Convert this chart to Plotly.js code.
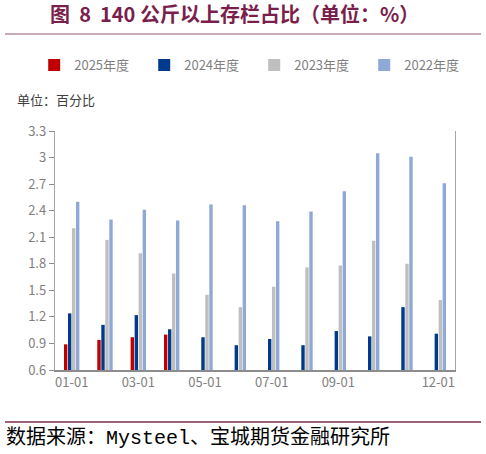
<!DOCTYPE html>
<html>
<head>
<meta charset="utf-8">
<script src="https://cdn.plot.ly/plotly-3.0.1.min.js"></script>
<style>
  body { margin: 0; background: #fff; }
  #chart { width: 486px; height: 454px; }
</style>
</head>
<body>
<div id="chart"></div>
<script>
// months on the x axis, and the labels that get shown
var months = ['01-01', '02-01', '03-01', '04-01', '05-01', '06-01',
              '07-01', '08-01', '09-01', '10-01', '11-01', '12-01'];
var shownMonths = ['01-01', '03-01', '05-01', '07-01', '09-01', '12-01'];

// share of hogs above 140 kg (%)
var y2025 = [0.89, 0.94, 0.97, 1.00, null, null, null, null, null, null, null, null];
var y2024 = [1.24, 1.11, 1.22, 1.06, 0.97, 0.88, 0.95, 0.88, 1.04, 0.98, 1.31, 1.01];
var y2023 = [2.20, 2.07, 1.92, 1.69, 1.45, 1.31, 1.54, 1.76, 1.78, 2.06, 1.80, 1.39];
var y2022 = [2.50, 2.30, 2.41, 2.29, 2.47, 2.46, 2.28, 2.39, 2.62, 3.05, 3.01, 2.71];

var seriesNames = ['2025年度', '2024年度', '2023年度', '2022年度'];
var seriesColours = ['#C00000', '#003A8C', '#BFBFBF', '#8EA9D6'];
var legendIds = ['legend', 'legend2', 'legend3', 'legend4'];

var cjk = '"Noto Sans CJK SC", "Liberation Sans", sans-serif';

// build one bar trace per year, each with its own legend box so they can be spaced out
var data = [];
var allValues = [y2025, y2024, y2023, y2022];
for (var i = 0; i < allValues.length; i++) {
	data.push({
		type: 'bar',
		name: seriesNames[i],
		x: months,
		y: allValues[i],
		marker: {color: seriesColours[i]},
		legend: legendIds[i],
		hoverinfo: 'x+y+name'
	});
}

var layout = {
	width: 486,
	height: 454,
	margin: {l: 55, r: 31, t: 131, b: 84},
	paper_bgcolor: '#ffffff',
	plot_bgcolor: '#ffffff',
	font: {family: cjk, size: 13, color: '#7F7F7F'},
	barmode: 'group',
	bargap: 0.52,
	bargroupgap: 0.15,
	showlegend: true,
	title: {
		text: '<b>图  8  140 公斤以上存栏占比（单位：%）</b>',
		font: {family: cjk, size: 20, color: '#7A1F4C'},
		x: 0.103, xanchor: 'left',
		y: 0.967, yanchor: 'middle'
	},
	xaxis: {
		type: 'category',
		tickvals: shownMonths,
		ticks: '',
		showgrid: false,
		showline: true,
		linecolor: '#8C8C8C',
		linewidth: 1.5,
		tickfont: {family: cjk, size: 13, color: '#7F7F7F'},
		fixedrange: true
	},
	// second x axis only for the small tick marks between every two months
	xaxis2: {
		overlaying: 'x',
		anchor: 'y',
		side: 'bottom',
		range: [-0.5, 11.5],
		tick0: -0.5,
		dtick: 2,
		ticks: 'outside',
		ticklen: 5,
		tickcolor: '#595959',
		showticklabels: false,
		showgrid: false,
		zeroline: false,
		showline: false,
		fixedrange: true
	},
	yaxis: {
		range: [0.6, 3.3],
		tick0: 0.6,
		dtick: 0.3,
		ticks: 'outside',
		ticklen: 5,
		tickcolor: '#8C8C8C',
		showgrid: false,
		zeroline: false,
		showline: true,
		mirror: true,
		linecolor: '#A6A6A6',
		linewidth: 1.2,
		tickfont: {family: cjk, size: 13, color: '#7F7F7F'},
		fixedrange: true
	},
	shapes: [
		// rule under the title
		{type: 'line', xref: 'paper', yref: 'paper', x0: -0.125, x1: 1.065, y0: 1.406, y1: 1.406,
		 line: {color: '#B98CA5', width: 1.5}},
		// rule above the source note
		{type: 'line', xref: 'paper', yref: 'paper', x0: -0.125, x1: 1.065, y0: -0.218, y1: -0.218,
		 line: {color: '#7B2C4C', width: 1.5}}
	],
	annotations: [
		{text: '单位：百分比', xref: 'paper', yref: 'paper', x: -0.1, y: 1.13,
		 xanchor: 'left', yanchor: 'middle', showarrow: false,
		 font: {family: cjk, size: 13, color: '#404040'}},
		{text: '数据来源：Mysteel、宝城期货金融研究所', xref: 'paper', yref: 'paper', x: -0.128, y: -0.285,
		 xanchor: 'left', yanchor: 'middle', showarrow: false,
		 font: {family: '"Liberation Mono", "Noto Sans CJK SC", monospace', size: 20, color: '#000000'}}
	]
};

// the four legend boxes, 110 px apart like the reference
for (var k = 0; k < legendIds.length; k++) {
	layout[legendIds[k]] = {
		orientation: 'h',
		x: -0.052 + k * 0.275, xanchor: 'left',
		y: 1.276, yanchor: 'middle',
		font: {family: cjk, size: 13, color: '#7F7F7F'},
		bgcolor: 'rgba(0,0,0,0)'
	};
}

Plotly.newPlot('chart', data, layout, {displayModeBar: false, staticPlot: true});
</script>
</body>
</html>
